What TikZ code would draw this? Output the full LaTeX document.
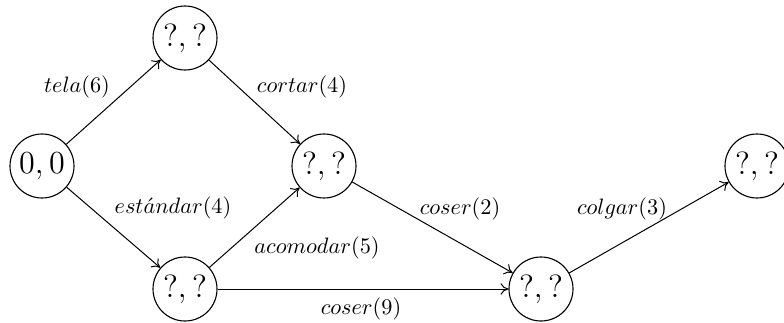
\documentclass[tikz,border=0pt]{standalone}
\usetikzlibrary{arrows.meta}
\begin{document}
\begin{tikzpicture}[x=0.4484pt,y=-0.4484pt,
  state/.style={circle,draw,line width=0.5pt,minimum size=28.7pt,inner sep=0pt,font=\Large},
  lbl/.style={inner sep=0pt},
  arr/.style={-{To[length=3.6pt,width=5.2pt]},line width=0.45pt}]
\useasboundingbox (0,0) rectangle (784,323);
\node[state] (A) at (42,166) {$0,0$};
\node[state] (B) at (185,38) {$?,?$};
\node[state] (C) at (324,166) {$?,?$};
\node[state] (D) at (185,289) {$?,?$};
\node[state] (E) at (541,289) {$?,?$};
\node[state] (F) at (757,166) {$?,?$};
\draw[arr] (A) -- (B);
\draw[arr] (A) -- (D);
\draw[arr] (B) -- (C);
\draw[arr] (D) -- (C);
\draw[arr] (C) -- (E);
\draw[arr] (D) -- (E);
\draw[arr] (E) -- (F);
\node[lbl] (l1) at (77,87) {$tela(6)$};
\node[lbl] (l2) at (302,87) {$cortar(4)$};
\node[lbl] (l3) at (173,208) {$est\acute{a}ndar(4)$};
\node[lbl] (l4) at (317,248) {$acomodar(5)$};
\node[lbl] (l5) at (361,309) {$coser(9)$};
\node[lbl] (l6) at (460,209) {$coser(2)$};
\node[lbl] (l7) at (622,209) {$colgar(3)$};
\end{tikzpicture}
\end{document}
